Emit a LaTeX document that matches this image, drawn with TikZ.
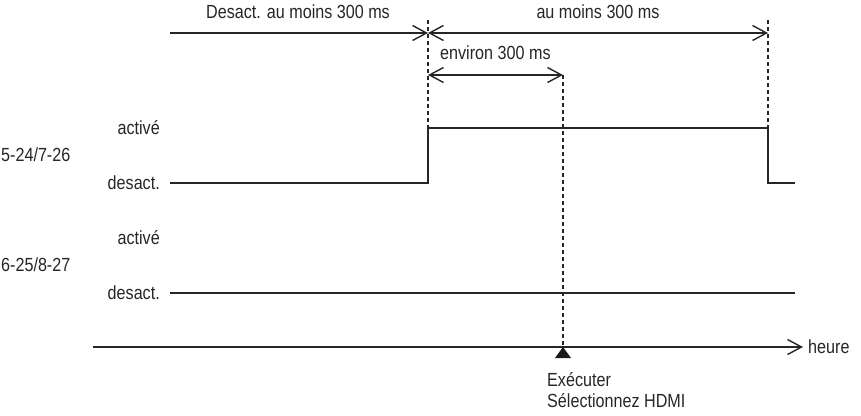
\documentclass[tikz,border=0pt]{standalone}
\usepackage{fontspec}
\setmainfont{Liberation Sans}[FakeStretch=0.85]
\usetikzlibrary{positioning, arrows.meta, calc}

\begin{document}
\begin{tikzpicture}[
        x=1pt, y=-1pt,
        font=\fontsize{19}{21}\selectfont,
        wire/.style={line width=1.4pt, draw=black!85},
        guide/.style={line width=1.3pt, draw=black!85, dash pattern=on 4pt off 3pt},
        span/.style={wire, {Straight Barb[length=14pt, width=15pt]}-{Straight Barb[length=14pt, width=15pt]}},
        onespan/.style={wire, -{Straight Barb[length=14pt, width=15pt]}},
        lbl/.style={inner sep=0pt, text=black!85}
    ]
        \useasboundingbox (0,0) rectangle (861,415);

        % upper time spans
        \coordinate (t0) at (170,33);
        \coordinate (t1) at (428,33);
        \coordinate (t2) at (768,33);
        \coordinate (t3) at (563,75);
        \node (offspan) [lbl] at (298,12) {Desact. au moins 300 ms};
        \node (onspan) [lbl] at (598,12) {au moins 300 ms};
        \node (approx) [lbl, anchor=west] at (440,53) {environ 300 ms};

        % signal labels
        \node (hi1) [lbl, anchor=east] at (160,128) {activé};
        \node (pin1) [lbl, anchor=west] at (1,155) {5-24/7-26};
        \node (lo1) [lbl, anchor=east] at (160,183) {desact.};
        \node (hi2) [lbl, anchor=east] at (160,238) {activé};
        \node (pin2) [lbl, anchor=west] at (1,265) {6-25/8-27};
        \node (lo2) [lbl, anchor=east] at (160,293) {desact.};

        % time axis
        \coordinate (ax0) at (93,347);
        \coordinate (ax1) at (803,347);
        \coordinate (exec) at (563,347);
        \node (axis) [lbl, anchor=west] at (808,347) {heure};
        \node (cmd) [lbl, anchor=north west, align=left] at (547,372) {Exécuter\\Sélectionnez HDMI};

        \draw [onespan] (t0) -- (t1);
        \draw [span] (t1) -- (t2);
        \draw [span] (t1 |- t3) -- (t3);

        \draw [guide] ($(t1)+(0,-13)$) -- (428,128);
        \draw [guide] ($(t2)+(0,-13)$) -- (768,128);
        \draw [guide] (t3) -- (exec);

        \draw [wire] (170,183) -- (428,183) -- (428,128) -- (768,128) -- (768,183) -- (795,183);
        \draw [wire] (170,293) -- (795,293);

        \draw [onespan] (ax0) -- (ax1);
        \fill [black!90] (exec) -- ++(8,11) -- ++(-16,0) -- cycle;
    \end{tikzpicture}
\end{document}
